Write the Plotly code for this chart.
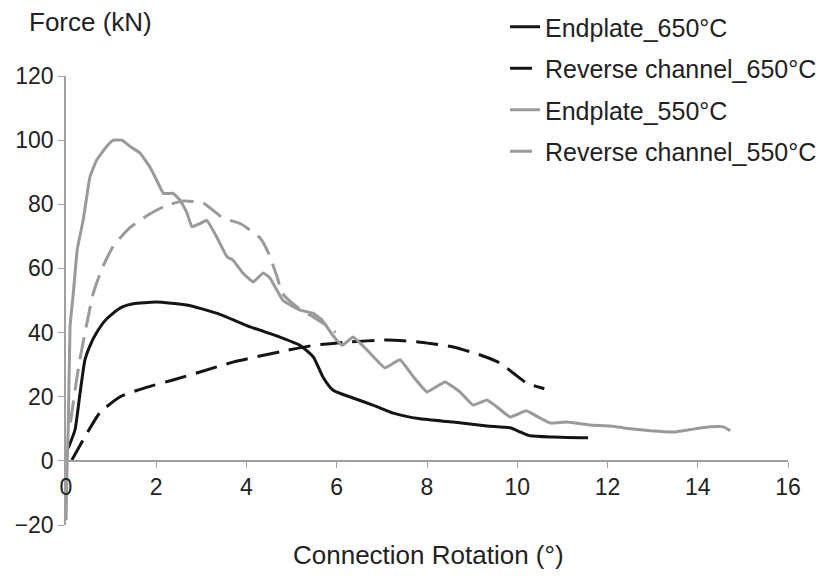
import plotly.graph_objects as go

# Endplate 650°C (black solid)
ep650_x = [0.05, 0.2, 0.31, 0.42, 0.55, 0.68, 0.85, 1.04, 1.25, 1.49, 2.0, 2.68, 3.35, 4.08, 4.74, 5.19, 5.48, 5.7, 5.92, 6.36, 6.8, 7.25, 7.85, 8.58, 9.33, 9.84, 10.07, 10.29, 10.8, 11.4, 11.57]
ep650_y = [4, 9.7, 21, 31.5, 36.5, 40, 43.5, 46, 48, 49, 49.5, 48.6, 46, 41.8, 38.6, 36, 32.4, 26, 22, 19.6, 17.4, 14.9, 13.1, 12.1, 10.9, 10.3, 9, 7.8, 7.4, 7.2, 7.2]

# Reverse channel 650°C (black dashed)
rc650_x = [0.13, 0.42, 0.75, 1.2, 1.8, 2.37, 2.97, 3.7, 4.74, 5.48, 6.23, 7.12, 7.85, 8.58, 9.18, 9.62, 9.91, 10.2, 10.55, 10.6]
rc650_y = [0.3, 7.5, 15, 20, 23, 25.2, 27.7, 30.8, 34, 36, 37, 37.7, 37, 35.5, 33, 30.5, 27.4, 24.3, 22.7, 22.5]

# Endplate 550°C (grey solid)
ep550_x = [0.0, 0.02, 0.05, 0.09, 0.16, 0.25, 0.38, 0.53, 0.68, 0.9, 1.05, 1.24, 1.42, 1.64, 1.86, 2.01, 2.16, 2.37, 2.53, 2.68, 2.79, 2.97, 3.12, 3.34, 3.57, 3.7, 3.92, 4.15, 4.37, 4.52, 4.81, 5.19, 5.48, 5.67, 5.92, 6.12, 6.36, 6.67, 7.07, 7.4, 7.7, 8.0, 8.4, 8.73, 9.02, 9.33, 9.55, 9.84, 10.2, 10.5, 10.73, 11.1, 11.6, 12.06, 12.4, 12.95, 13.5, 13.9, 14.28, 14.57, 14.72]
ep550_y = [-18.5, -3.7, 10.6, 42, 52, 66, 75, 88.5, 93.8, 98, 100, 100, 98, 96, 91.6, 87.5, 83.4, 83.4, 81.3, 77.3, 73, 74, 75, 69.8, 63.6, 62.6, 58.6, 55.8, 58.6, 57, 50, 47, 46, 44, 39, 36, 38.6, 34.6, 29, 31.5, 26.2, 21.5, 24.6, 21.5, 17.4, 19, 16.8, 13.7, 15.6, 13.4, 11.8, 12.1, 11.2, 10.9, 10.2, 9.4, 9, 9.9, 10.6, 10.6, 9.4]

# Reverse channel 550°C (grey dashed)
rc550_x = [0.1, 0.2, 0.3, 0.45, 0.6, 0.8, 1.05, 1.4, 1.8, 2.2, 2.6, 3.04, 3.48, 3.86, 4.3, 4.48, 4.68, 4.79, 5.12, 5.48, 5.92, 5.97]
rc550_y = [12, 22, 31, 42, 52, 60, 67, 72.5, 76.5, 79.5, 81, 80.4, 75.7, 74, 69.5, 65, 57.3, 52.3, 48, 44.9, 40.8, 40]

x_ticks = [0, 2, 4, 6, 8, 10, 12, 14, 16]
y_ticks = [-20, 0, 20, 40, 60, 80, 100, 120]

BLACK = "#141414"
GREY = "#9a9a9a"
DASH = "22px,10px"
FONT = "Liberation Sans, Arial, sans-serif"

fig = go.Figure()
fig.add_trace(go.Scatter(x=ep650_x, y=ep650_y, mode="lines", name="Endplate_650°C",
                         line=dict(color=BLACK, width=3, shape="spline", smoothing=0.5), legendgroup="a"))
fig.add_trace(go.Scatter(x=rc650_x, y=rc650_y, mode="lines", name="Reverse channel_650°C",
                         line=dict(color=BLACK, width=3, dash=DASH, shape="spline", smoothing=0.5), legendgroup="b"))
fig.add_trace(go.Scatter(x=ep550_x, y=ep550_y, mode="lines", name="Endplate_550°C",
                         line=dict(color=GREY, width=3, shape="spline", smoothing=0.3), legendgroup="c"))
fig.add_trace(go.Scatter(x=rc550_x, y=rc550_y, mode="lines", name="Reverse channel_550°C",
                         line=dict(color=GREY, width=3, dash=DASH, shape="spline", smoothing=0.5), legendgroup="d"))

fig.update_layout(
    width=831, height=576,
    margin=dict(l=66, r=43, t=76, b=51, autoexpand=False),
    paper_bgcolor="white", plot_bgcolor="white",
    font=dict(family=FONT, color="#222222"),
    showlegend=True,
    legend=dict(x=(505 - 66) / 722, y=(525 - 4) / 449, xanchor="left", yanchor="top",
                font=dict(size=25, family=FONT, color="#222222"),
                tracegroupgap=6, bgcolor="rgba(0,0,0,0)", itemwidth=30),
    xaxis=dict(range=[0, 16], tickvals=x_ticks, showgrid=False, zeroline=False,
               showline=True, linecolor="#a0a0a0", linewidth=1.5,
               ticks="outside", ticklen=6, tickcolor="#a0a0a0",
               anchor="free", position=20 / 140,
               tickfont=dict(size=23, family=FONT, color="#222222")),
    yaxis=dict(range=[-20, 120], tickvals=y_ticks, showgrid=False, zeroline=False,
               showline=True, linecolor="#a0a0a0", linewidth=1.5,
               ticks="outside", ticklen=6, tickcolor="#a0a0a0",
               tickfont=dict(size=23, family=FONT, color="#222222")),
    annotations=[
        dict(text="Force (kN)", xref="paper", yref="paper", x=(27 - 66) / 722, y=(525 - 22) / 449,
             xanchor="left", yanchor="middle", showarrow=False,
             font=dict(size=26, family=FONT, color="#222222")),
        dict(text="Connection Rotation (°)", xref="paper", yref="paper", x=(428 - 66) / 722,
             y=(525 - 555) / 449, xanchor="center", yanchor="middle", showarrow=False,
             font=dict(size=26, family=FONT, color="#222222")),
    ],
)

fig.write_html("out.html")
